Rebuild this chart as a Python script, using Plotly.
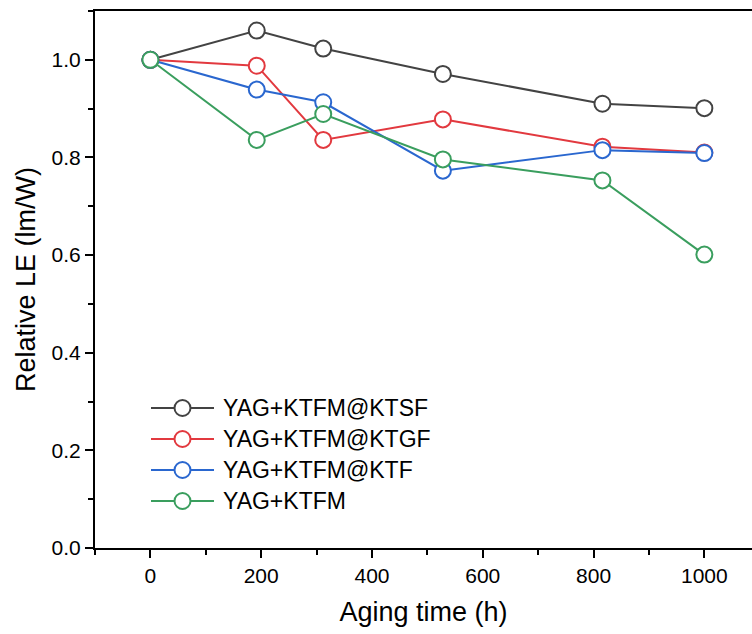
import plotly.graph_objects as go

# Aging time (h) and relative luminous efficacy for each sample
aging_time = [0, 192, 312, 528, 816, 1000]
series_names = ["YAG+KTFM@KTSF", "YAG+KTFM@KTGF", "YAG+KTFM@KTF", "YAG+KTFM"]
le_ktsf = [1.000, 1.060, 1.023, 0.971, 0.910, 0.901]
le_ktgf = [1.000, 0.988, 0.836, 0.878, 0.822, 0.810]
le_ktf = [1.000, 0.939, 0.913, 0.773, 0.815, 0.809]
le_ktfm = [1.000, 0.836, 0.889, 0.796, 0.753, 0.601]
colors = ["#434343", "#e2393f", "#2a67cf", "#3a9e5e"]

x_ticks = [0, 200, 400, 600, 800, 1000]
y_ticks = [0.0, 0.2, 0.4, 0.6, 0.8, 1.0]

font_family = "Liberation Sans, Arial, sans-serif"

W, H = 752, 634
M_L, M_R, M_T, M_B = 95, 0, 11, 86
plot_w = W - M_L - M_R
plot_h = H - M_T - M_B

fig = go.Figure()
for name, vals, col in zip(series_names, [le_ktsf, le_ktgf, le_ktf, le_ktfm], colors):
    fig.add_trace(go.Scatter(
        x=aging_time, y=vals, name=name, mode="lines+markers",
        line=dict(color=col, width=2),
        marker=dict(symbol="circle", size=16, color="white",
                    line=dict(color=col, width=2)),
        showlegend=False,
    ))

# Hand-built legend: long line sample, open circle and label per series
leg_left_px = 151      # left end of the line sample, page pixels
leg_line_len = 63
leg_row0_px = 408      # first row centre, page pixels from top
leg_row_gap = 31
shapes, annotations = [], []
for i, (name, col) in enumerate(zip(series_names, colors)):
    yc = 1 - ((leg_row0_px + i * leg_row_gap) - M_T) / plot_h
    xl = (leg_left_px - M_L) / plot_w
    shapes.append(dict(type="line", xref="paper", yref="paper",
                       xsizemode="pixel", xanchor=xl, x0=0, x1=leg_line_len,
                       y0=yc, y1=yc, line=dict(color=col, width=2), layer="above"))
    shapes.append(dict(type="circle", xref="paper", yref="paper",
                       xsizemode="pixel", ysizemode="pixel",
                       xanchor=xl, yanchor=yc,
                       x0=leg_line_len / 2 - 8, x1=leg_line_len / 2 + 8, y0=-8, y1=8,
                       fillcolor="white", line=dict(color=col, width=2), layer="above"))
    annotations.append(dict(xref="paper", yref="paper", x=xl, y=yc,
                            xshift=leg_line_len + 7, xanchor="left", yanchor="middle",
                            text=name, showarrow=False,
                            font=dict(size=23, color="black", family=font_family)))

axis_common = dict(
    showline=True, linecolor="black", linewidth=2,
    ticks="outside", ticklen=8, tickwidth=2, tickcolor="black",
    showgrid=False, zeroline=False,
    tickfont=dict(size=21, color="black", family=font_family),
)

fig.update_xaxes(
    range=[-100, 1086], tickvals=x_ticks, mirror=True,
    minor=dict(dtick=100, tick0=0, ticks="outside", ticklen=5, tickwidth=2, tickcolor="black"),
    title=dict(text="Aging time (h)", font=dict(size=27, color="black", family=font_family), standoff=16),
    **axis_common,
)
fig.update_yaxes(
    range=[0, 1.1], tickvals=y_ticks, tickformat=".1f",
    minor=dict(dtick=0.1, tick0=0, ticks="outside", ticklen=5, tickwidth=2, tickcolor="black"),
    title=dict(text="Relative LE (lm/W)", font=dict(size=27, color="black", family=font_family), standoff=8),
    **axis_common,
)

fig.update_layout(
    width=W, height=H,
    margin=dict(l=M_L, r=M_R, t=M_T, b=M_B),
    plot_bgcolor="white", paper_bgcolor="white",
    font=dict(family=font_family, color="black"),
    shapes=shapes, annotations=annotations,
    showlegend=False,
)

fig.write_html("out.html")
